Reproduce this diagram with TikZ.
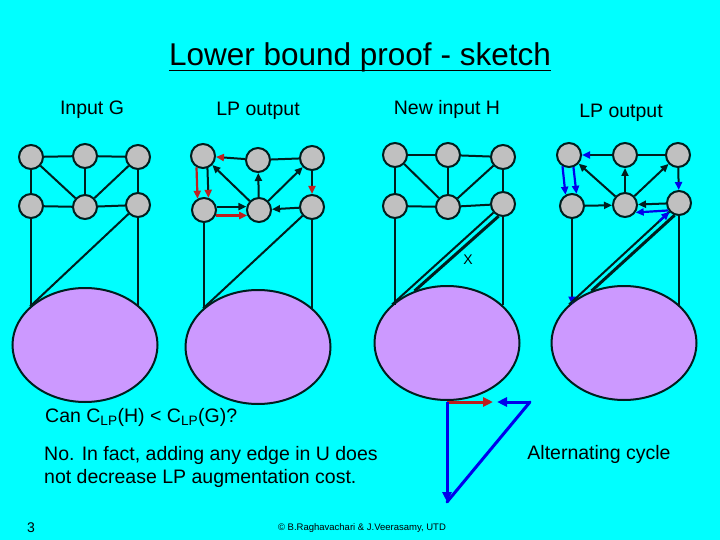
\documentclass[tikz,border=0pt]{standalone}
\usepackage{fontspec}
\setmainfont{Liberation Sans}
\usepackage{xcolor}
\usepackage{tikz}
\usetikzlibrary{arrows.meta,shapes.geometric,calc}

\definecolor{slidebg}{RGB}{0,255,255}
\definecolor{vtxgray}{RGB}{192,192,192}
\definecolor{blobpurple}{RGB}{204,153,255}
\definecolor{lpred}{RGB}{190,30,30}
\definecolor{lpblue}{RGB}{0,0,235}
\definecolor{ink}{RGB}{0,30,30}

\tikzset{
	vtx/.style={draw=ink, circle, fill=vtxgray, line width=2pt, minimum size=24pt, inner sep=0pt},
	blob/.style={draw=ink, ellipse, fill=blobpurple, line width=2pt, minimum width=145pt, minimum height=114pt, inner sep=0pt},
	edge/.style={draw=ink, line width=2pt},
	headin/.style={-{Triangle[length=8pt,width=7pt,color=#1]}},
	headin/.default=ink,
	lbl/.style={font=\fontsize{19.5}{23.5}\selectfont, inner sep=0pt}
}

\begin{document}
\begin{tikzpicture}[x=1pt, y=-1pt]
		\fill[slidebg] (0,0) rectangle (720,540);
		\useasboundingbox (0,0) rectangle (720,540);

		% title
		\node[font=\fontsize{31.5}{36}\selectfont, inner sep=0pt, anchor=base] (title) at (360,66) {Lower bound proof - sketch};
		\draw[line width=1.8pt] ([yshift=-4.5pt]title.base west) -- ([yshift=-4.5pt]title.base east);

		\node[lbl] (capg) at (92,110) {Input G};
		\node[lbl] (capp) at (258,111) {LP output};
		\node[lbl] (caph) at (447,109) {New input H};
		\node[lbl] (capq) at (621,113) {LP output};

		% (1) input G
		\node[blob] (eg) at (85,345) {};
		\node[vtx] (g1) at (31,157) {};
		\node[vtx] (g2) at (85,156) {};
		\node[vtx] (g3) at (138,157) {};
		\node[vtx] (g4) at (31,206) {};
		\node[vtx] (g5) at (85,207) {};
		\node[vtx] (g6) at (138,205) {};

		\draw[edge] (g1) -- (g2);
		\draw[edge] (g2) -- (g3);
		\draw[edge] (g4) -- (g5);
		\draw[edge] (g5) -- (g6);
		\draw[edge] (g1) -- (g4);
		\draw[edge] (g2) -- (g5);
		\draw[edge] (g3) -- (g6);
		\draw[edge] (g1) -- (g5);
		\draw[edge] (g3) -- (g5);
		\draw[edge] (g4) -- (g4 |- eg.145);
		\draw[edge] (g6) -- (g6 |- eg.35);
		\draw[edge] (g6) -- (eg.145);

		% (2) LP output of G
		\node[blob] (ep) at (258,347) {};
		\node[vtx] (p1) at (203,156) {};
		\node[vtx] (p2) at (258,160) {};
		\node[vtx] (p3) at (312,158) {};
		\node[vtx] (p4) at (204,210) {};
		\node[vtx] (p5) at (259,210) {};
		\node[vtx] (p6) at (312,207) {};

		\draw[edge] (p2) -- (p3);
		\draw[edge, headin=lpred] (p2) -- (p1);
		\draw[edge, headin=lpred] (p1.-70) -- (p4.70);
		\draw[lpred, line width=2.2pt, headin=lpred] (p1.240) -- (p4.120);
		\draw[edge, headin] (p4.15) -- (p5.165);
		\draw[lpred, line width=2.2pt, headin=lpred] (p4.-25) -- (p5.205);
		\draw[edge, headin] (p5) -- (p1);
		\draw[edge, headin] (p5) -- (p2);
		\draw[edge, headin] (p5) -- (p3);
		\draw[edge, headin=lpred] (p3) -- (p6);
		\draw[edge, headin] (p6) -- (p5);
		\draw[edge] (p4) -- (p4 |- ep.145);
		\draw[edge] (p6) -- (p6 |- ep.35);
		\draw[edge] (p6) -- (ep.145);

		% (3) new input H
		\node[blob] (eh) at (447,343) {};
		\node[vtx] (h1) at (395,155) {};
		\node[vtx] (h2) at (448,155) {};
		\node[vtx] (h3) at (503,157) {};
		\node[vtx] (h4) at (395,206) {};
		\node[vtx] (h5) at (448,207) {};
		\node[vtx] (h6) at (503,204) {};

		\draw[edge] (h1) -- (h2);
		\draw[edge] (h2) -- (h3);
		\draw[edge] (h4) -- (h5);
		\draw[edge] (h5) -- (h6);
		\draw[edge] (h1) -- (h4);
		\draw[edge] (h2) -- (h5);
		\draw[edge] (h3) -- (h6);
		\draw[edge] (h1) -- (h5);
		\draw[edge] (h3) -- (h5);
		\draw[edge] (h4) -- (h4 |- eh.145);
		\draw[edge] (h6) -- (h6 |- eh.35);
		\draw[edge] (h6) -- (eh.145);
		\draw[edge, line width=3pt] (h6.250) -- (eh.122);
		\node[font=\fontsize{14}{16}\selectfont, inner sep=0pt] (xlbl) at (468,260) {X};

		% (4) LP output of H
		\node[blob] (eq) at (624,343) {};
		\node[vtx] (q1) at (569,155) {};
		\node[vtx] (q2) at (625,155) {};
		\node[vtx] (q3) at (678,155) {};
		\node[vtx] (q4) at (572,206) {};
		\node[vtx] (q5) at (625,205) {};
		\node[vtx] (q6) at (679,203) {};

		\draw[edge] (q2) -- (q3);
		\draw[edge, headin=lpblue] (q2) -- (q1);
		\draw[lpblue, line width=2.2pt, headin=lpblue] (q1.-70) -- (q4.70);
		\draw[lpblue, line width=2.2pt, headin=lpblue] (q1.240) -- (q4.120);
		\draw[edge, headin] (q4) -- (q5);
		\draw[edge, headin] (q5) -- (q1);
		\draw[edge, headin] (q5) -- (q2);
		\draw[edge, headin] (q5) -- (q3);
		\draw[edge, headin=lpblue] (q3) -- (q6);
		\draw[edge, headin] (q6) -- (q5);
		\draw[lpblue, line width=2.2pt, headin=lpblue] (q6.215) -- (q5.-35);
		\draw[edge, headin=lpblue] (q4) -- (q4 |- eq.145);
		\draw[edge] (q6) -- (q6 |- eq.35);
		\draw[edge] (eq.145) -- (q6);
		\draw[lpblue, line width=2.2pt, headin=lpblue] ($(q6)!27pt!(eq.145)$) -- (q6);
		\draw[edge, line width=3pt] (q6.250) -- (eq.122);

		% question and answer
		\node[lbl, anchor=base west] (ask) at (45,422) {Can C\textsubscript{LP}(H) < C\textsubscript{LP}(G)?};
		\node[lbl, anchor=north west, align=left] (ans) at (44,446) {No. In fact, adding any edge in U does\\not decrease LP augmentation cost.};

		% alternating cycle
		\coordinate (a1) at (447,402);
		\coordinate (a2) at (530,402);
		\coordinate (a3) at (447,502);
		\coordinate (amr) at (493,402);
		\coordinate (amb) at (497,402);
		\draw[lpred, line width=3pt, -{Triangle[length=10pt,width=9pt]}] (a1) -- (amr);
		\draw[lpblue, line width=3pt, -{Triangle[length=10pt,width=9pt]}] (a2) -- (amb);
		\draw[lpblue, line width=3pt, -{Triangle[length=10pt,width=9pt]}] (a1) -- (a3);
		\draw[lpblue, line width=3pt, line cap=round] (a3) -- (a2);
		\node[lbl] (altc) at (599,454) {Alternating cycle};

		% footer
		\node[font=\fontsize{14}{16}\selectfont, inner sep=0pt] (pgno) at (31,528) {3};
		\node[font=\fontsize{9.5}{11}\selectfont, inner sep=0pt] (credit) at (362,528) {© B.Raghavachari \& J.Veerasamy, UTD};
	\end{tikzpicture}
\end{document}
